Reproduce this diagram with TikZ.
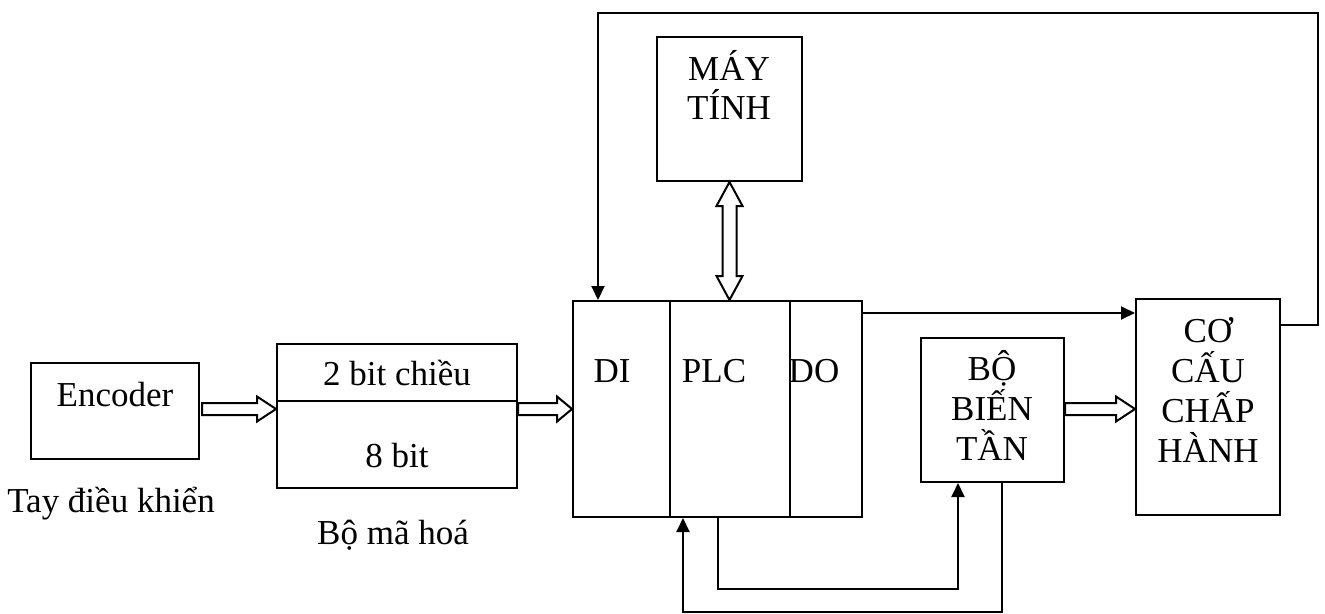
\documentclass[tikz,border=0pt]{standalone}
\usepackage{fontspec}
\setmainfont{Liberation Serif}
\usetikzlibrary{arrows.meta,calc}
\newcommand\fatR[3]{\draw[fat] let \p1=(#1), \p2=(#2) in (\x1,\y1+6pt) -- (\x2-#3,\y1+6pt) -- (\x2-#3,\y1+12.5pt) -- (\x2,\y1) -- (\x2-#3,\y1-12.5pt) -- (\x2-#3,\y1-6pt) -- (\x1,\y1-6pt) -- cycle;}
\newcommand\fatV[2]{\draw[fat] let \p1=(#1), \p2=(#2) in (\x1,\y1) -- (\x1+13pt,\y1-24pt) -- (\x1+7pt,\y1-24pt) -- (\x1+7pt,\y2+24pt) -- (\x1+13pt,\y2+24pt) -- (\x1,\y2) -- (\x1-13pt,\y2+24pt) -- (\x1-7pt,\y2+24pt) -- (\x1-7pt,\y1-24pt) -- (\x1-13pt,\y1-24pt) -- cycle;}
\begin{document}
\begin{tikzpicture}[x=1pt,y=-1pt,
  box/.style={draw,line width=2pt,rectangle,inner sep=0pt,minimum width=#1},
  txt/.style={anchor=base,inner sep=0pt,font=\fontsize{35}{40}\selectfont},
  fat/.style={draw,line width=2pt,fill=white,line join=miter},
  conn/.style={line width=2pt,-{Triangle[length=14pt,width=13pt]}}]
\useasboundingbox[fill=white] (0,0) rectangle (1325,613);
% boxes
\node[box=168pt,minimum height=96pt] (enc) at (115,411) {};
\node[box=240pt,minimum height=57pt] (bmaT) at (397,372.5) {};
\node[box=240pt,minimum height=87pt] (bmaB) at (397,444.5) {};
\node[box=97pt,minimum height=216pt] (di) at (621.5,409) {};
\node[box=120pt,minimum height=216pt] (plc) at (730,409) {};
\node[box=72pt,minimum height=216pt] (do) at (826,409) {};
\node[box=145pt,minimum height=144pt] (may) at (729.5,109) {};
\node[box=143pt,minimum height=144pt] (bbt) at (992.5,410) {};
\node[box=144pt,minimum height=216pt] (co) at (1208,407) {};
% texts
\node[txt] (tEnc) at (115,406) {Encoder};
\node[txt] (tTay) at (111,512) {Tay điều khiển};
\node[txt] (t2bit) at (397,385) {2 bit chiều};
\node[txt] (t8bit) at (397,467) {8 bit};
\node[txt] (tBma) at (393,544) {Bộ mã hoá};
\node[txt] (tDI) at (612,382) {DI};
\node[txt] (tPLC) at (714,382) {PLC};
\node[txt] (tDO) at (814,382) {DO};
\node[txt] (tMay1) at (729,80) {MÁY};
\node[txt] (tMay2) at (729,119) {TÍNH};
\node[txt] (tB1) at (992,380) {BỘ};
\node[txt] (tB2) at (992,420) {BIẾN};
\node[txt] (tB3) at (992,460) {TẦN};
\node[txt] (tC1) at (1208,342) {CƠ};
\node[txt] (tC2) at (1208,382) {CẤU};
\node[txt] (tC3) at (1208,422) {CHẤP};
\node[txt] (tC4) at (1208,462) {HÀNH};
% helper coordinates
\coordinate (a1s) at (202,409);
\coordinate (yDO) at (0,313);
\coordinate (r1) at (1318,325);
\coordinate (r2) at (1318,13);
\coordinate (r3) at (598,13);
\coordinate (k1) at (718,589);
\coordinate (k2) at (958,589);
\coordinate (k3) at (1002,611.5);
\coordinate (k4) at (683,611.5);
% fat arrows
\fatR{a1s}{bmaT.west |- a1s}{19pt}
\fatR{bmaT.east |- a1s}{di.west |- a1s}{15pt}
\fatR{bbt.east |- a1s}{co.west |- a1s}{19pt}
\fatV{may.south}{may.south |- plc.north}
% thin connectors
\draw[conn] (co.east |- r1) -- (r1) -- (r2) -- (r3) -- (di.north -| r3);
\draw[conn] (do.east |- yDO) -- (co.west |- yDO);
\draw[conn] (plc.south -| k1) -- (k1) -- (k2) -- (bbt.south -| k2);
\draw[conn] (bbt.south -| k3) -- (k3) -- (k4) -- (plc.south -| k4);
\end{tikzpicture}
\end{document}
